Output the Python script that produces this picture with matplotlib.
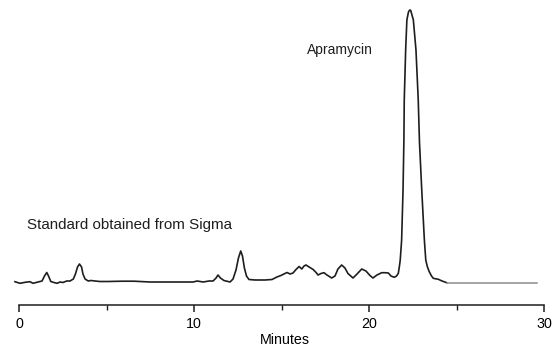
import matplotlib
matplotlib.use("Agg")
import matplotlib.pyplot as plt

plt.rcParams['font.family'] = ['Liberation Sans', 'DejaVu Sans']

# Chromatogram trace (minutes, detector signal in arbitrary units)
trace_minutes = [
    -0.25, 0.04, 0.33, 0.61, 0.78, 1.07, 1.30, 1.44, 1.57, 1.67, 1.80, 1.98, 2.16, 2.33, 2.50,
    2.71, 2.90, 3.09, 3.21, 3.33, 3.44, 3.56, 3.64, 3.76, 3.94, 4.10, 4.33, 4.61, 5.07, 5.87,
    6.56, 7.47, 9.94, 10.17, 10.51, 10.85, 11.08, 11.25, 11.36, 11.50, 11.70, 12.05, 12.22, 12.39,
    12.53, 12.66, 12.76, 12.87, 12.99, 13.13, 13.48, 14.05, 14.45, 14.73, 14.96, 15.13, 15.31,
    15.48, 15.65, 15.82, 16.00, 16.15, 16.28, 16.39, 16.57, 16.80, 16.97, 17.08, 17.25, 17.42,
    17.59, 17.86, 18.05, 18.22, 18.43, 18.62, 18.79, 19.08, 19.31, 19.58, 19.82, 20.05, 20.22,
    20.45, 20.72, 20.91, 21.10, 21.25, 21.44, 21.57, 21.67, 21.73, 21.78, 21.86, 21.94, 21.99,
    22.01, 22.09, 22.16, 22.25, 22.30, 22.34, 22.38, 22.42, 22.53, 22.68, 22.81, 22.88, 23.01,
    23.16, 23.24, 23.33, 23.44, 23.57, 23.67, 23.96, 24.17, 24.44,
]
trace_signal = [
    0.3, -1.3, -0.3, 0.3, -1.3, 0.0, 1.0, 6.0, 9.5, 6.0, 0.5, -0.5, -1.3, 0.0, -0.5,
    1.0, 1.0, 3.0, 8.0, 15.0, 18.0, 15.0, 8.0, 3.0, 1.0, 1.5, 1.0, 0.5, 0.5, 0.8,
    0.8, 0.0, 0.0, 1.0, 0.0, 1.0, 1.0, 4.0, 7.0, 4.0, 1.5, 0.0, 3.0, 12.0,
    24.0, 31.0, 26.0, 14.0, 6.0, 2.5, 2.0, 2.0, 2.5, 5.0, 6.5, 8.0, 9.5,
    8.0, 9.0, 12.5, 15.5, 13.0, 16.0, 17.0, 15.0, 12.5, 9.5, 7.0, 8.5, 9.3,
    7.0, 4.0, 6.0, 13.0, 17.0, 14.0, 8.5, 4.0, 8.0, 13.0, 11.0, 6.5, 4.0,
    7.0, 9.3, 9.3, 9.0, 6.0, 4.7, 6.0, 8.7, 15.3, 22.0, 42.0, 92.0, 142.0,
    182.0, 232.0, 262.0, 270.0, 271.5, 272.0, 271.5, 269.0, 262.0, 232.0, 182.0, 140.0, 92.0,
    42.0, 22.0, 15.3, 10.3, 6.0, 3.7, 2.7, 1.0, -0.7,
]
# Flat (grey) end of the trace
tail_minutes = [24.44, 29.6]
tail_signal = [-0.7, -0.7]

x_ticks = [0, 10, 20, 30]
x_minor_ticks = [5, 15, 25]
x_label = "Minutes"
peak_label = "Apramycin"
sample_label = "Standard obtained from Sigma"

fig = plt.figure(figsize=(5.56, 3.49), dpi=100)
W, H = 556.0, 349.0
x0, x1 = 19.3, 544.0
y_axis, y_top = 304.5, 10.0
ax = fig.add_axes([x0 / W, (H - y_axis) / H, (x1 - x0) / W, (y_axis - y_top) / H])

ax.plot(trace_minutes, trace_signal, color='#1e1e1e', lw=1.2, clip_on=False,
        solid_joinstyle='round')
ax.plot(tail_minutes, tail_signal, color='#8c8c8c', lw=1.1, clip_on=False)

ax.set_xlim(0, 30)
ax.set_ylim(-22.5, 272)

for s in ['left', 'top', 'right']:
    ax.spines[s].set_visible(False)
ax.spines['bottom'].set_linewidth(1.1)
ax.spines['bottom'].set_color('#1e1e1e')
ax.set_yticks([])
ax.set_xticks(x_ticks)
ax.set_xticks(x_minor_ticks, minor=True)
ax.set_xticklabels([str(t) for t in x_ticks])
ax.tick_params(axis='x', which='major', direction='out', length=5, width=1.1,
               color='#1e1e1e', pad=4, labelsize=10.3)
ax.tick_params(axis='x', which='minor', direction='out', length=3.5, width=1.0,
               color='#1e1e1e')

ax.set_xlabel(x_label, fontsize=10.3)
ax.xaxis.set_label_coords((285 - x0) / (x1 - x0), -(340 - y_axis) / (y_axis - y_top),
                          transform=ax.transAxes)
ax.xaxis.label.set_verticalalignment('center')

ax.text((340 - x0) / 17.49, 282 - 54.3, peak_label, fontsize=10.0,
        ha='center', va='baseline', color='#1e1e1e')
ax.text((27 - x0) / 17.49, 282 - 225, sample_label, fontsize=10.9,
        ha='left', va='center', color='#1e1e1e')

fig.savefig('out.png', dpi=100)
